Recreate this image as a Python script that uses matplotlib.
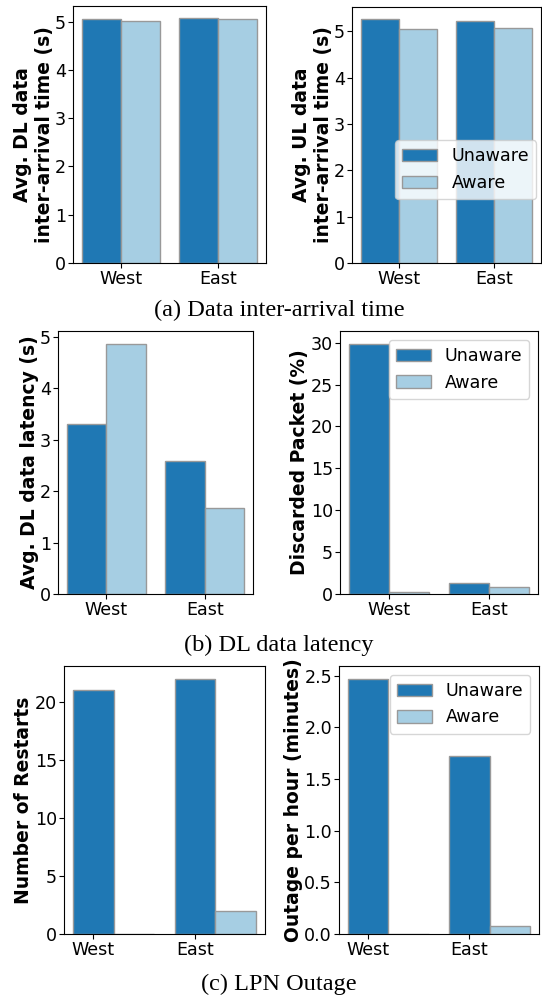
import numpy as np
import matplotlib
matplotlib.use("Agg")
import matplotlib.pyplot as plt

regions = ["West", "East"]
series = ["Unaware", "Aware"]

dl_interarrival_unaware = [5.06, 5.07]
dl_interarrival_aware = [5.02, 5.05]
ul_interarrival_unaware = [5.26, 5.22]
ul_interarrival_aware = [5.04, 5.06]

dl_latency_unaware = [3.31, 2.58]
dl_latency_aware = [4.87, 1.68]
discarded_unaware = [29.9, 1.27]
discarded_aware = [0.2, 0.87]

restarts_unaware = [21, 22]
restarts_aware = [0, 2]
outage_unaware = [2.47, 1.725]
outage_aware = [0.0, 0.078]

DARK = "#1f78b4"
LIGHT = "#a6cee3"
EDGE = "#999999"
W, H = 542, 998
FS = 12.6
LFS = 13.5

plt.rcParams["font.family"] = "DejaVu Sans"
plt.rcParams["xtick.major.pad"] = 1.5
plt.rcParams["ytick.major.pad"] = 1.5
fig = plt.figure(figsize=(W / 100, H / 100), dpi=100)


def box(left, right, top, bottom):
    return [left / W, 1 - bottom / H, (right - left) / W, (bottom - top) / H]


def bars(ax, unaware, aware, ylabel, centered=True, legend=None):
    x = np.arange(len(regions))
    width = 0.4
    if centered:
        xa, xb = x - width / 2, x + width / 2
    else:
        xa, xb = x, x + width
    ax.bar(xa, unaware, width, color=DARK, edgecolor=EDGE, label=series[0])
    ax.bar(xb, aware, width, color=LIGHT, edgecolor=EDGE, label=series[1])
    ax.set_xticks(x)
    ax.set_xticklabels(regions, fontsize=FS)
    ax.tick_params(axis="y", labelsize=FS)
    ax.set_ylabel(ylabel, fontsize=LFS, fontweight="bold", labelpad=1)
    if legend is not None:
        ax.legend(fontsize=FS, **legend)


ax1 = fig.add_axes(box(73, 266, 6, 263))
bars(ax1, dl_interarrival_unaware, dl_interarrival_aware,
     "Avg. DL data\ninter-arrival time (s)")
ax2 = fig.add_axes(box(352, 541, 7, 263))
bars(ax2, ul_interarrival_unaware, ul_interarrival_aware,
     "Avg. UL data\ninter-arrival time (s)",
     legend=dict(loc="lower right", bbox_to_anchor=(0.974, 0.25), borderaxespad=0))

ax3 = fig.add_axes(box(58, 253, 331, 594))
bars(ax3, dl_latency_unaware, dl_latency_aware, "Avg. DL data latency (s)")
ax4 = fig.add_axes(box(340, 538, 331, 594))
bars(ax4, discarded_unaware, discarded_aware, "Discarded Packet (%)",
     legend=dict(loc="upper right"))

ax5 = fig.add_axes(box(64, 265, 666, 934))
bars(ax5, restarts_unaware, restarts_aware, "Number of Restarts", centered=False)
ax5.set_yticks([0, 5, 10, 15, 20])
ax6 = fig.add_axes(box(339, 539, 666, 934))
bars(ax6, outage_unaware, outage_aware, "Outage per hour (minutes)",
     centered=False, legend=dict(loc="upper right"))

caps = [("(a) Data inter-arrival time", 310),
        ("(b) DL data latency", 645),
        ("(c) LPN Outage", 984)]
for text, y in caps:
    fig.text(279 / W, 1 - y / H, text, ha="center", va="center",
             fontsize=17.5, family="Liberation Serif")

fig.savefig("out.png", dpi=100)
